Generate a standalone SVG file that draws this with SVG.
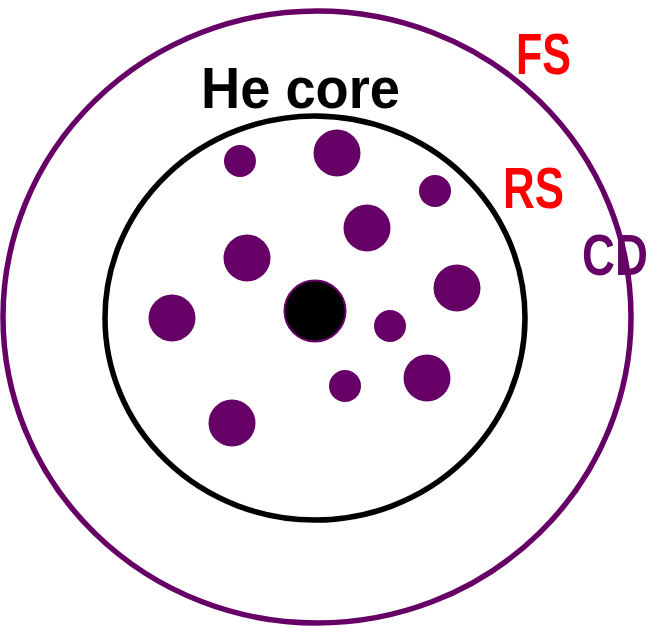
<svg xmlns="http://www.w3.org/2000/svg" width="654" height="626" viewBox="0 0 654 626">
<style>
.dot{fill:#660066}
.lbl{font-family:"Liberation Sans",Arial,sans-serif;font-weight:bold;font-size:57px}
</style>
<rect width="654" height="626" fill="#ffffff"/>
<g id="outer">
<ellipse cx="317" cy="317" rx="314" ry="306" fill="none" stroke="#660066" stroke-width="5.5"/>
</g>
<g id="core">
<ellipse cx="315" cy="318" rx="210" ry="202" fill="none" stroke="#000000" stroke-width="5.5"/>
</g>
<g id="center">
<circle cx="315" cy="311" r="30.5" fill="#000000" stroke="#660066" stroke-width="2"/>
</g>
<g id="dots">
<circle class="dot" cx="240" cy="161" r="16"/>
<circle class="dot" cx="337" cy="153" r="23.5"/>
<circle class="dot" cx="435" cy="191" r="16"/>
<circle class="dot" cx="367" cy="228" r="23.5"/>
<circle class="dot" cx="247" cy="258" r="23.5"/>
<circle class="dot" cx="457" cy="288" r="23.5"/>
<circle class="dot" cx="172" cy="318" r="23.5"/>
<circle class="dot" cx="390" cy="326" r="16"/>
<circle class="dot" cx="427" cy="378" r="23.5"/>
<circle class="dot" cx="345" cy="386" r="16"/>
<circle class="dot" cx="232" cy="423" r="23.5"/>
</g>
<g id="labels">
<text class="lbl" transform="translate(201 108) scale(0.952 1)" x="0" y="0" fill="#000000">He core</text>
<text class="lbl" transform="translate(516 74) scale(0.755 1)" x="0" y="0" fill="#ff0000">FS</text>
<text class="lbl" transform="translate(503 208) scale(0.77 1)" x="0" y="0" fill="#ff0000">RS</text>
<text class="lbl" transform="translate(582 275) scale(0.8 1)" x="0" y="0" fill="#660066">CD</text>
</g>
</svg>
